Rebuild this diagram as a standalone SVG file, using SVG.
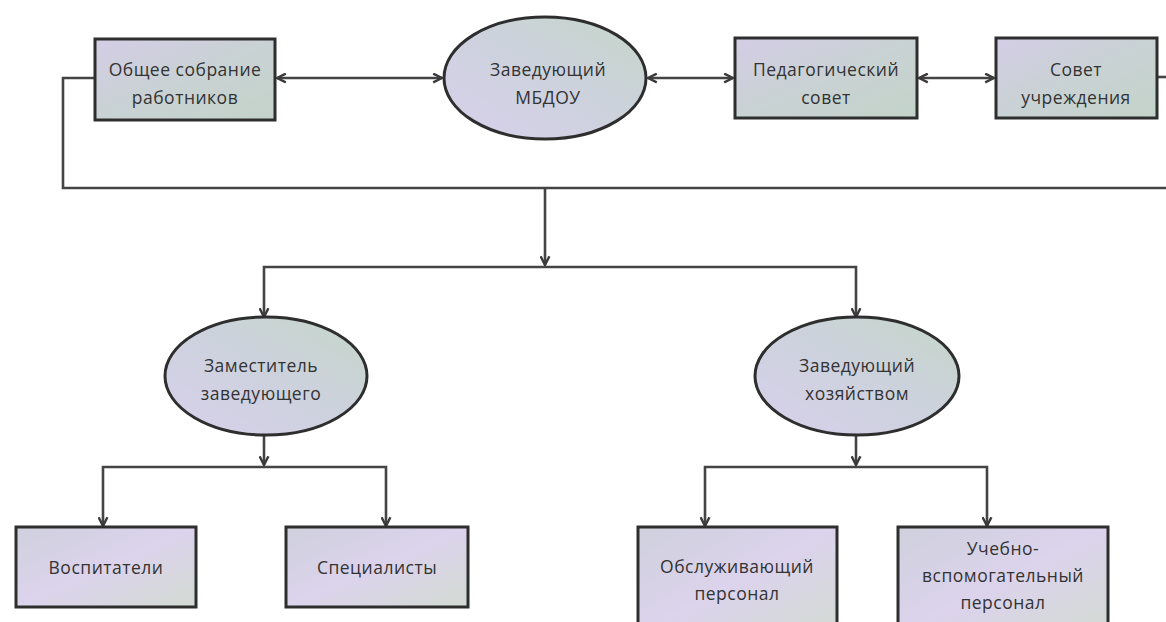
<svg xmlns="http://www.w3.org/2000/svg" width="1166" height="622" viewBox="0 0 1166 622">
<defs>
<linearGradient id="gTop" x1="0" y1="0" x2="1" y2="1">
<stop offset="0" stop-color="#d4cde6"/>
<stop offset="0.5" stop-color="#c9d2d4"/>
<stop offset="1" stop-color="#c3d3c9"/>
</linearGradient>
<linearGradient id="gEll" x1="0" y1="1" x2="1" y2="0">
<stop offset="0" stop-color="#d8d0ec"/>
<stop offset="0.55" stop-color="#ccd2dc"/>
<stop offset="1" stop-color="#c6d6c8"/>
</linearGradient>
<linearGradient id="gBot" x1="0" y1="0" x2="1" y2="1">
<stop offset="0" stop-color="#cfd0dd"/>
<stop offset="0.5" stop-color="#dcd3ec"/>
<stop offset="1" stop-color="#d2dbd2"/>
</linearGradient>
<marker id="ah" viewBox="0 0 10 10" refX="9" refY="5" markerWidth="11" markerHeight="11" markerUnits="userSpaceOnUse" orient="auto-start-reverse">
<path d="M1,1 L9,5 L1,9" fill="none" stroke="#3a3a3a" stroke-width="2.2"/>
</marker>
<style>
.box{stroke:#2e2e2e;stroke-width:3}
.ell{stroke:#2e2e2e;stroke-width:3}
.t{font-family:"Open Sans","Liberation Sans",sans-serif;font-size:17.5px;fill:#333;text-anchor:middle;letter-spacing:0.5px}
.c{fill:none;stroke:#444;stroke-width:2.6}
</style>
</defs>
<g id="connectors">
<path class="c" d="M95,78 H63 V188 H1166"/>
<path class="c" d="M1157,77 H1166"/>
<line class="c" x1="277" y1="78" x2="442" y2="78" marker-start="url(#ah)" marker-end="url(#ah)"/>
<line class="c" x1="648" y1="78" x2="733" y2="78" marker-start="url(#ah)" marker-end="url(#ah)"/>
<line class="c" x1="919" y1="78" x2="994" y2="78" marker-start="url(#ah)" marker-end="url(#ah)"/>
<line class="c" x1="545" y1="188" x2="545" y2="265" marker-end="url(#ah)"/>
<path class="c" d="M264,317 V267 H856 V317" marker-start="url(#ah)" marker-end="url(#ah)"/>
<line class="c" x1="264" y1="435" x2="264" y2="465" marker-end="url(#ah)"/>
<path class="c" d="M103,526 V467 H386 V526" marker-start="url(#ah)" marker-end="url(#ah)"/>
<line class="c" x1="856" y1="435" x2="856" y2="465" marker-end="url(#ah)"/>
<path class="c" d="M705,526 V467 H987 V526" marker-start="url(#ah)" marker-end="url(#ah)"/>
</g>
<g id="n-sobranie">
<rect class="box" x="95" y="39" width="180" height="81" fill="url(#gTop)"/>
<text class="t" x="185" y="76">Общее собрание</text>
<text class="t" x="185" y="104">работников</text>
</g>
<g id="n-zaveduyushchiy">
<ellipse class="ell" cx="545" cy="78" rx="101" ry="61" fill="url(#gEll)"/>
<text class="t" x="548" y="76">Заведующий</text>
<text class="t" x="548" y="104">МБДОУ</text>
</g>
<g id="n-pedsovet">
<rect class="box" x="735" y="38" width="182" height="80" fill="url(#gTop)"/>
<text class="t" x="826" y="76">Педагогический</text>
<text class="t" x="826" y="104">совет</text>
</g>
<g id="n-sovet">
<rect class="box" x="996" y="38" width="161" height="80" fill="url(#gTop)"/>
<text class="t" x="1076" y="76">Совет</text>
<text class="t" x="1076" y="104">учреждения</text>
</g>
<g id="n-zamestitel">
<ellipse class="ell" cx="266" cy="376" rx="101" ry="59" fill="url(#gEll)"/>
<text class="t" x="261" y="372">Заместитель</text>
<text class="t" x="261" y="400">заведующего</text>
</g>
<g id="n-hoz">
<ellipse class="ell" cx="857" cy="376" rx="102" ry="59" fill="url(#gEll)"/>
<text class="t" x="857" y="372">Заведующий</text>
<text class="t" x="857" y="400">хозяйством</text>
</g>
<g id="n-vospitateli">
<rect class="box" x="16" y="527" width="180" height="80" fill="url(#gBot)"/>
<text class="t" x="106" y="574">Воспитатели</text>
</g>
<g id="n-specialisty">
<rect class="box" x="286" y="527" width="182" height="80" fill="url(#gBot)"/>
<text class="t" x="377" y="574">Специалисты</text>
</g>
<g id="n-obsl">
<rect class="box" x="638" y="527" width="199" height="110" fill="url(#gBot)"/>
<text class="t" x="737" y="573">Обслуживающий</text>
<text class="t" x="737" y="600">персонал</text>
</g>
<g id="n-uchebno">
<rect class="box" x="898" y="527" width="210" height="110" fill="url(#gBot)"/>
<text class="t" x="1003" y="555">Учебно-</text>
<text class="t" x="1003" y="582">вспомогательный</text>
<text class="t" x="1003" y="609">персонал</text>
</g>
</svg>
